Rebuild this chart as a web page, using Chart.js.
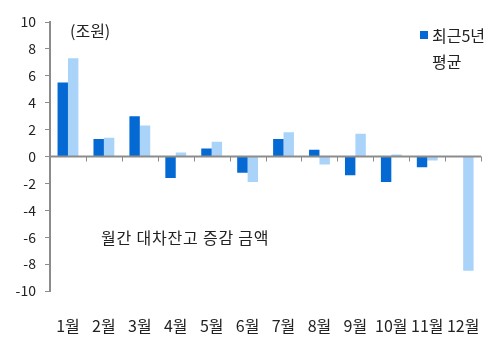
<!DOCTYPE html>
<html>
<head>
<meta charset="utf-8">
<script src="https://cdn.jsdelivr.net/npm/chart.js@4"></script>
<style>
  body { margin: 0; background: #fff; }
  #wrap { width: 497px; height: 344px; }
</style>
</head>
<body>
<div id="wrap"><canvas id="chart" width="497" height="344"></canvas></div>
<script>
const months = ["1월", "2월", "3월", "4월", "5월", "6월", "7월", "8월", "9월", "10월", "11월", "12월"];
const recent = [5.5, 1.3, 3.0, -1.6, 0.6, -1.2, 1.3, 0.5, -1.4, -1.9, -0.8, 0];
const average = [7.3, 1.4, 2.3, 0.3, 1.1, -1.9, 1.8, -0.6, 1.7, 0.15, -0.3, -8.5];
const yTicks = [10, 8, 6, 4, 2, 0, -2, -4, -6, -8, -10];

const FONT = '"Noto Sans CJK KR", "Noto Sans", sans-serif';
const DARK = "#0569d4";
const LIGHT = "#aad3fa";
const AXIS = "#8c8c8c";
const TEXT = "#222";

// zero line, small ticks between months, and the floating texts
const extras = {
  id: "extras",
  afterDatasetsDraw(chart) {
    const { ctx, scales: { x, y } } = chart;
    const y0 = y.getPixelForValue(0);
    ctx.save();
    ctx.strokeStyle = AXIS;
    ctx.lineWidth = 2;
    ctx.beginPath();
    ctx.moveTo(chart.chartArea.left, y0);
    ctx.lineTo(chart.chartArea.right, y0);
    ctx.stroke();
    ctx.lineWidth = 1;
    const step = x.getPixelForValue(1) - x.getPixelForValue(0);
    for (let i = 1; i <= months.length; i++) {
      const px = Math.round(x.getPixelForValue(i) - step / 2) + 0.5;
      ctx.beginPath();
      ctx.moveTo(px, y0);
      ctx.lineTo(px, y0 + 5);
      ctx.stroke();
    }

    ctx.fillStyle = TEXT;
    ctx.font = "16px " + FONT;
    ctx.textBaseline = "middle";
    ctx.fillText("(조원)", 70, 31);
    ctx.letterSpacing = "0.8px";
    ctx.fillText("월간 대차잔고 증감 금액", 101, 238);
    ctx.letterSpacing = "0px";

    ctx.fillStyle = DARK;
    ctx.fillRect(420, 31, 8, 8);
    ctx.fillStyle = TEXT;
    ctx.fillText("최근5년", 432, 36);
    ctx.fillText("평균", 432, 62);
    ctx.restore();
  }
};

new Chart(document.getElementById("chart"), {
  type: "bar",
  data: {
    labels: months,
    datasets: [
      { label: "최근5년", data: recent, backgroundColor: DARK },
      { label: "평균", data: average, backgroundColor: LIGHT }
    ]
  },
  options: {
    responsive: false,
    animation: false,
    layout: { padding: { top: 22, right: 14 } },
    datasets: { bar: { categoryPercentage: 0.58, barPercentage: 1 } },
    plugins: { legend: { display: false }, tooltip: { enabled: false } },
    scales: {
      x: {
        grid: { display: false },
        border: { display: false },
        ticks: { color: TEXT, font: { size: 16, family: FONT }, padding: 17, maxRotation: 0 },
        afterFit(scale) { scale.height = 53; }
      },
      y: {
        min: -10,
        max: 10,
        afterBuildTicks(scale) { scale.ticks = yTicks.map(v => ({ value: v })); },
        grid: { drawOnChartArea: false, drawTicks: true, tickLength: 5, color: AXIS },
        border: { display: true, color: AXIS, width: 2 },
        ticks: { color: TEXT, font: { size: 14, family: FONT }, padding: 9 },
        afterFit(scale) { scale.width = 50; }
      }
    }
  },
  plugins: [extras]
});
</script>
</body>
</html>
